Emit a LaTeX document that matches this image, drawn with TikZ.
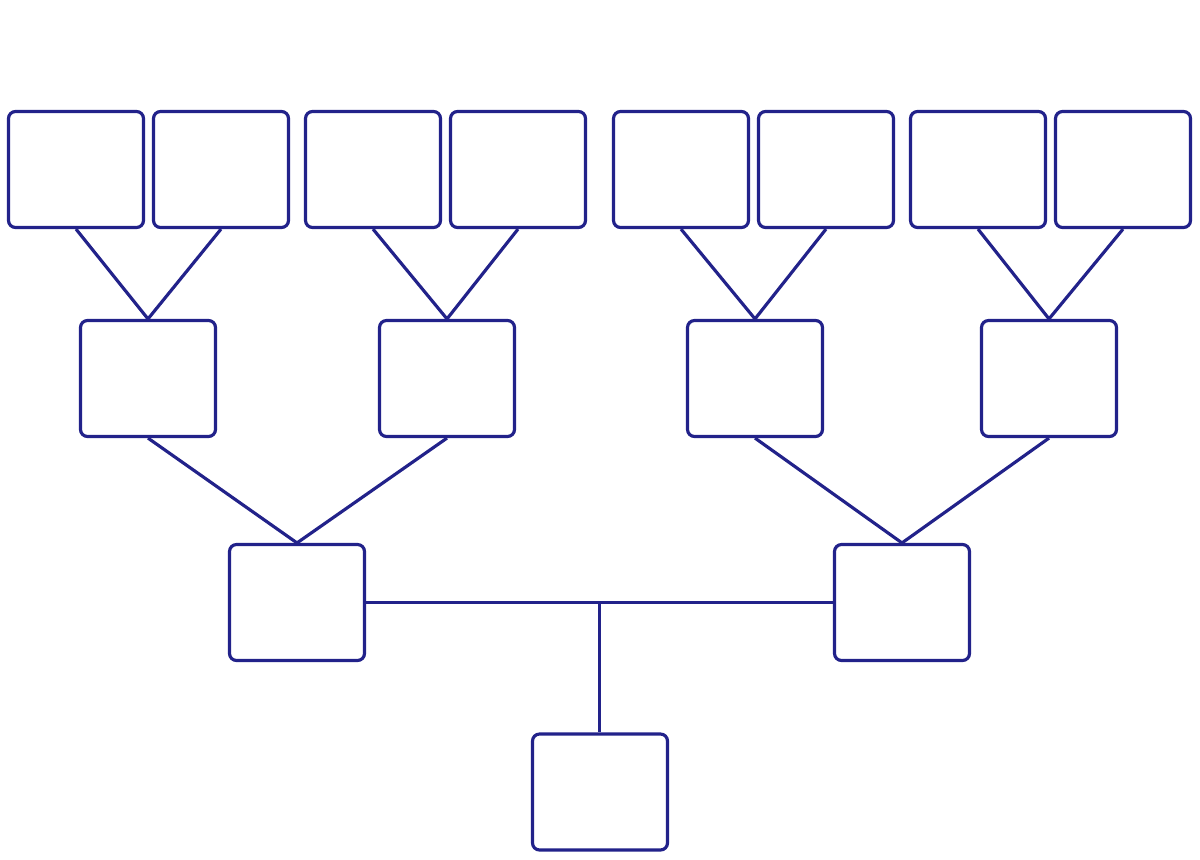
\documentclass[tikz,border=0pt]{standalone}
\usepackage{tikz}
\usetikzlibrary{calc}
\definecolor{treeblue}{RGB}{34,34,138}
\tikzset{
  famBox/.style={draw=treeblue,line width=1.8pt,rounded corners=4pt,fill=white,
    minimum width=2.70cm,minimum height=2.32cm,inner sep=0pt},
  famLine/.style={draw=treeblue,line width=1.8pt}
}

\begin{document}
\begin{tikzpicture}
  \useasboundingbox (0,0) rectangle (24,-17.18);
  % Great-grandparents (top row)
  \foreach \x [count=\i] in {1.52,4.42,7.46,10.36,13.62,16.52,19.56,22.46} {
    \node[famBox] (ggp\i) at (\x,-3.39) {};
  }
  % Grandparents
  \foreach \x [count=\i] in {2.96,8.94,15.10,20.98} {
    \node[famBox] (gp\i) at (\x,-7.57) {};
  }
  % Parents
  \node[famBox] (par1) at (5.94,-12.05) {};
  \node[famBox] (par2) at (18.04,-12.05) {};
  % Child
  \node[famBox] (child) at (12.00,-15.84) {};
  % Lines from great-grandparents to grandparents
  \foreach \g/\a/\b in {1/1/2,2/3/4,3/5/6,4/7/8} {
    \draw[famLine] (ggp\a.south) -- (gp\g.north) -- (ggp\b.south);
  }
  % Lines from grandparents to parents
  \draw[famLine] (gp1.south) -- (par1.north) -- (gp2.south);
  \draw[famLine] (gp3.south) -- (par2.north) -- (gp4.south);
  % Marriage line and child
  \draw[famLine] (par1.east) -- (par2.west);
  \coordinate (wed) at ($(par1.east)!0.5!(par2.west)$);
  \draw[famLine] (wed) -- (wed |- child.north);
\end{tikzpicture}
\end{document}
